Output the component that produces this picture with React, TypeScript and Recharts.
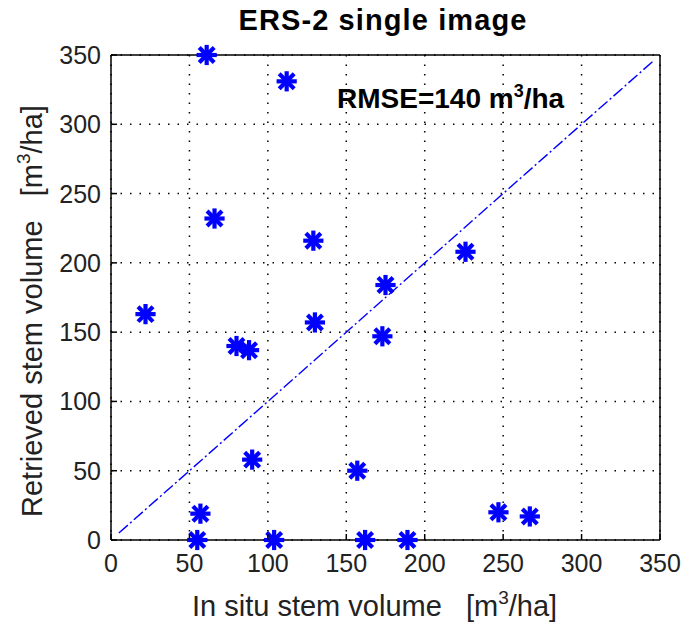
import React from 'react';
import {
  ScatterChart,
  Scatter,
  XAxis,
  YAxis,
  CartesianGrid,
  ReferenceLine,
  Customized,
} from 'recharts';

const inSituVolume = [61, 112, 66, 129, 175, 22, 80, 88, 130, 173, 90, 57, 55, 104, 157, 162, 189, 247, 267, 226];
const retrievedVolume = [350, 331, 232, 216, 184, 163, 140, 137, 157, 147, 58, 19, 0, 0, 50, 0, 0, 20, 17, 208];
const axisTicks = [0, 50, 100, 150, 200, 250, 300, 350];
const oneToOneLine = [5, 346];

const points = inSituVolume.map((x, i) => ({ x, y: retrievedVolume[i] }));

const FONT = '"Liberation Sans", Arial, Helvetica, sans-serif';
const BLUE = '#0000ff';
const TICK_FS = 25;
const TICK_LEN = 6;

const Asterisk = (props: any) => {
  const { cx, cy } = props;
  if (cx == null || cy == null) return null;
  const r = 8;
  const d = 6;
  return (
    <g stroke={BLUE} strokeWidth={4.2} strokeLinecap="square">
      <line x1={cx - r} y1={cy} x2={cx + r} y2={cy} />
      <line x1={cx} y1={cy - r} x2={cx} y2={cy + r} />
      <line x1={cx - d} y1={cy - d} x2={cx + d} y2={cy + d} />
      <line x1={cx - d} y1={cy + d} x2={cx + d} y2={cy - d} />
    </g>
  );
};

const BottomTick = (props: any) => {
  const { x, y, payload } = props;
  return (
    <g>
      <line x1={x} x2={x} y1={y} y2={y - TICK_LEN} stroke="#000" strokeWidth={1.5} />
      <text x={x} y={y + 32} textAnchor="middle" fontSize={TICK_FS} fontFamily={FONT} fill="#222">
        {payload.value}
      </text>
    </g>
  );
};

const LeftTick = (props: any) => {
  const { x, y, payload } = props;
  return (
    <g>
      <line x1={x} x2={x + TICK_LEN} y1={y} y2={y} stroke="#000" strokeWidth={1.5} />
      <text x={x - 10} y={y + 9} textAnchor="end" fontSize={TICK_FS} fontFamily={FONT} fill="#222">
        {payload.value}
      </text>
    </g>
  );
};

const TopTick = (props: any) => {
  const { x, y } = props;
  return <line x1={x} x2={x} y1={y} y2={y + TICK_LEN} stroke="#000" strokeWidth={1.5} />;
};

const RightTick = (props: any) => {
  const { x, y } = props;
  return <line x1={x} x2={x - TICK_LEN} y1={y} y2={y} stroke="#000" strokeWidth={1.5} />;
};

const Texts = () => (
  <g fontFamily={FONT}>
    <text x={383} y={30} textAnchor="middle" fontSize={29} fontWeight="bold" letterSpacing={1.1} fill="#000">
      ERS-2 single image
    </text>
    <text x={337} y={108} fontSize={28} fontWeight="bold" fill="#000" style={{ whiteSpace: 'pre' }}>
      RMSE=140 m<tspan fontSize={18} dy={-11}>3</tspan>
      <tspan dy={11}>/ha</tspan>
    </text>
    <text x={192} y={616} fontSize={29} fill="#222" style={{ whiteSpace: 'pre' }}>
      In situ stem volume   [m<tspan fontSize={19} dy={-12}>3</tspan>
      <tspan dy={12}>/ha]</tspan>
    </text>
    <text
      x={42}
      y={517}
      fontSize={29}
      fill="#222"
      transform="rotate(-90, 42, 517)"
      style={{ whiteSpace: 'pre' }}
    >
      Retrieved stem volume   [m<tspan fontSize={19} dy={-12}>3</tspan>
      <tspan dy={12}>/ha]</tspan>
    </text>
  </g>
);

export default function App() {
  return (
    <div style={{ position: 'absolute', left: 0, top: 0, width: 683, height: 627, background: '#fff' }}>
      <ScatterChart
        width={683}
        height={627}
        margin={{ top: 54, right: 22, bottom: 40, left: 51 }}
      >
        <CartesianGrid
          stroke="#000"
          strokeWidth={1.5}
          strokeDasharray="1.5 8"
          horizontalValues={axisTicks}
          verticalValues={axisTicks}
        />
        <XAxis
          dataKey="x"
          type="number"
          domain={[0, 350]}
          ticks={axisTicks}
          height={47}
          tickSize={0}
          tickMargin={0}
          tickLine={false}
          axisLine={{ stroke: '#000', strokeWidth: 1.5 }}
          tick={BottomTick}
          interval={0}
        />
        <XAxis
          xAxisId="top"
          orientation="top"
          type="number"
          domain={[0, 350]}
          ticks={axisTicks}
          height={1}
          tickSize={0}
          tickMargin={0}
          tickLine={false}
          axisLine={{ stroke: '#000', strokeWidth: 1.5 }}
          tick={TopTick}
          interval={0}
        />
        <YAxis
          dataKey="y"
          type="number"
          domain={[0, 350]}
          ticks={axisTicks}
          width={60}
          tickSize={0}
          tickMargin={0}
          tickLine={false}
          axisLine={{ stroke: '#000', strokeWidth: 1.5 }}
          tick={LeftTick}
          interval={0}
        />
        <YAxis
          yAxisId="right"
          orientation="right"
          type="number"
          domain={[0, 350]}
          ticks={axisTicks}
          width={1}
          tickSize={0}
          tickMargin={0}
          tickLine={false}
          axisLine={{ stroke: '#000', strokeWidth: 1.5 }}
          tick={RightTick}
          interval={0}
        />
        <ReferenceLine
          segment={[
            { x: oneToOneLine[0], y: oneToOneLine[0] },
            { x: oneToOneLine[1], y: oneToOneLine[1] },
          ]}
          stroke={BLUE}
          strokeWidth={1.4}
          strokeDasharray="12 3 2 3"
        />
        <Scatter data={points} isAnimationActive={false} shape={Asterisk} />
        <Customized component={Texts} />
      </ScatterChart>
    </div>
  );
}
